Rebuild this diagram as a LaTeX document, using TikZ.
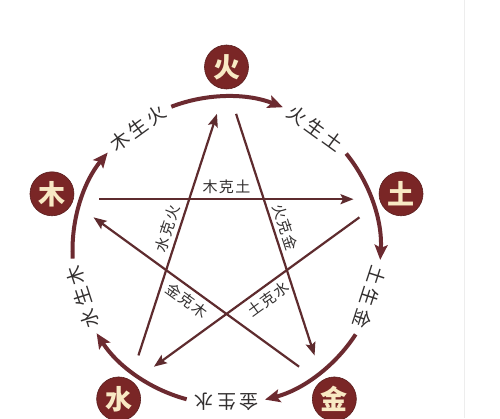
\documentclass[tikz,border=0pt]{standalone}
\usepackage{fontspec}
\setmainfont{Noto Sans CJK SC}
\usetikzlibrary{arrows.meta}
\definecolor{nodefill}{HTML}{7A2626}
\definecolor{nodeline}{HTML}{5A1E1E}
\definecolor{cream}{HTML}{F8E9C4}
\definecolor{arccol}{HTML}{6C2A30}
\definecolor{linecol}{HTML}{5E2B2E}
\definecolor{txtcol}{HTML}{333030}
\newcommand{\gsp}{\hspace{3.5pt}}
\newcommand{\ksp}{\hspace{1.5pt}}
\begin{document}
\begin{tikzpicture}[x=1pt,y=1pt,
  elem/.style={circle,fill=nodefill,draw=nodeline,line width=0.6pt,minimum size=44pt,inner sep=0pt,text=cream,font=\fontsize{27}{27}\selectfont\bfseries},
  genarc/.style={draw=arccol,line width=4pt,-{Stealth[length=15pt,width=13pt,inset=3pt]}},
  keline/.style={draw=linecol,line width=2.2pt,-{Stealth[length=13pt,width=10pt,inset=2.5pt]}},
  glab/.style={text=txtcol,font=\fontsize{19}{19}\selectfont,inner sep=0pt},
  klab/.style={text=txtcol,font=\fontsize{15}{15}\selectfont,inner sep=1pt,sloped}
]
\useasboundingbox[fill=white] (-226.5,-167.5) rectangle (273.5,250.5);
\draw[black!7,line width=0.8pt] (237.5,-167.5) -- (237.5,250.5);

% generating cycle arcs (clockwise)
\foreach \t/\n in {162/a,90/b,18/c,-54/d,-126/e}{
  \coordinate (arcs-\n) at ({\t+21}:154);
  \draw[genarc] (arcs-\n) arc[start angle={\t+21},end angle={\t-21.5},radius=154];
}

% element nodes
\node[elem] (fire)  at (90:183.5) {火};
\node[elem] (wood)  at (162:183.5) {木};
\node[elem] (earth) at (18:183.5) {土};
\node[elem] (metal) at (-54:183.5) {金};
\node[elem] (water) at (-126:183.5) {水};

% generating labels
\node[glab,rotate=36]  (g1) at (126:151) {木\gsp 生\gsp 火};
\node[glab,rotate=-36] (g2) at (54:151) {火\gsp 生\gsp 土};
\node[glab,rotate=-108] (g3) at (-18:151) {土\gsp 生\gsp 金};
\node[glab,rotate=180] (g4) at (-90:151) {金\gsp 生\gsp 水};
\node[glab,rotate=108] (g5) at (-162:151) {水\gsp 生\gsp 木};

% controlling star
\coordinate (wood-s)  at (158:137);
\coordinate (earth-t) at (22:137);
\coordinate (earth-s) at (14:137);
\coordinate (water-t) at (-122:137);
\coordinate (water-s) at (-130:137);
\coordinate (fire-t)  at (94:137);
\coordinate (fire-s)  at (86:137);
\coordinate (metal-t) at (-50:137);
\coordinate (metal-s) at (-58:137);
\coordinate (wood-t)  at (166:137);

\draw[keline] (wood-s) -- node[klab,above=3pt,pos=0.5] (k1) {木\ksp 克\ksp 土} (earth-t);
\draw[keline] (earth-s) -- node[klab,below=3.5pt,pos=0.48] (k2) {土\ksp 克\ksp 水} (water-t);
\draw[keline] (water-s) -- node[klab,above=3pt,pos=0.51] (k3) {水\ksp 克\ksp 火} (fire-t);
\draw[keline] (fire-s) -- node[klab,above=3pt,pos=0.485] (k4) {火\ksp 克\ksp 金} (metal-t);
\draw[keline] (metal-s) -- node[klab,below=3.5pt,pos=0.51] (k5) {金\ksp 克\ksp 木} (wood-t);
\end{tikzpicture}
\end{document}
